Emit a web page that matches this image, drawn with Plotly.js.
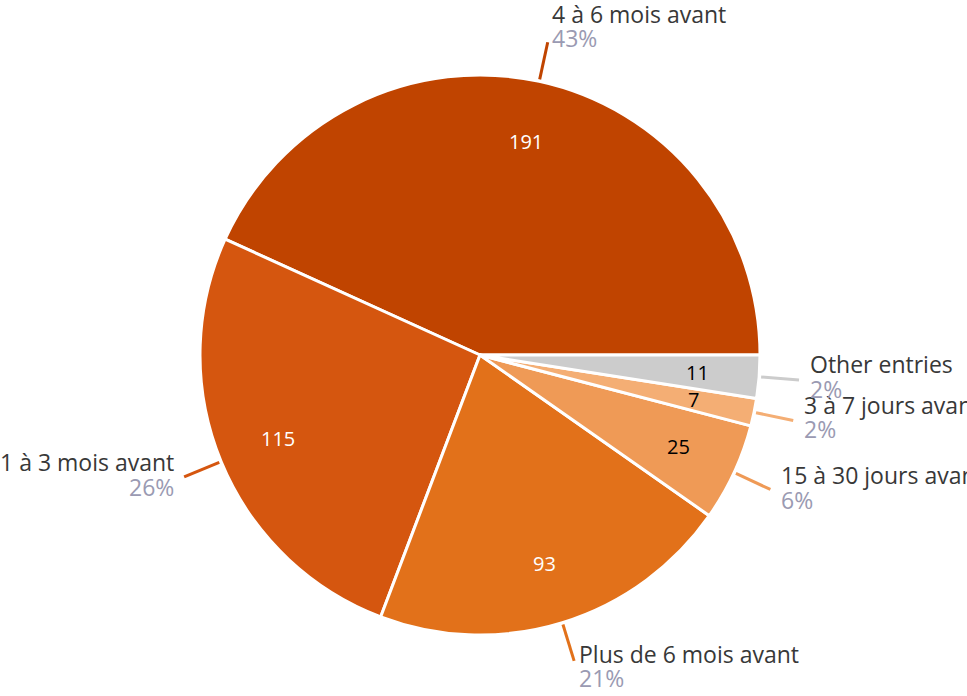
<!DOCTYPE html>
<html>
<head>
<meta charset="utf-8">
<script src="https://cdn.plot.ly/plotly-3.0.1.min.js"></script>
<style>html,body{margin:0;padding:0;background:#fff;}#chart{width:967px;height:696px;}</style>
</head>
<body>
<div id="chart"></div>
<script>
const labels = ['4 à 6 mois avant', '1 à 3 mois avant', 'Plus de 6 mois avant', '15 à 30 jours avant', '3 à 7 jours avant', 'Other entries'];
const values = [191, 115, 93, 25, 7, 11];
const colors = ['#C04400', '#D5560F', '#E2711A', '#EF9A56', '#F4AE74', '#CCCCCC'];
const valueColors = ['#ffffff', '#ffffff', '#ffffff', '#000000', '#000000', '#000000'];

const W = 967, H = 696;
const cx = 480, cy = 355, R = 280;
const FONT = '"Open Sans", sans-serif';

const total = values.reduce((a, b) => a + b, 0);
const px = x => x / W;
const py = y => 1 - y / H;

const annotations = [];
const shapes = [];
let cum = 0;
values.forEach((v, i) => {
  const frac = v / total;
  const mid = (cum + frac / 2) * 2 * Math.PI;
  cum += frac;
  const dx = Math.cos(mid), dy = -Math.sin(mid);
  // inside value
  const ri = R * 0.78;
  annotations.push({
    xref: 'paper', yref: 'paper',
    x: px(cx + ri * dx), y: py(cy + ri * dy),
    text: String(v), showarrow: false,
    xanchor: 'center', yanchor: 'middle',
    font: {family: FONT, size: 20, color: valueColors[i]}
  });
  // leader line
  const r1 = R + 2, r2 = R + 40;
  shapes.push({
    type: 'line', xref: 'paper', yref: 'paper',
    x0: px(cx + r1 * dx), y0: py(cy + r1 * dy),
    x1: px(cx + r2 * dx), y1: py(cy + r2 * dy),
    line: {color: colors[i], width: 3}
  });
  const ex = cx + r2 * dx, ey = cy + r2 * dy;
  const right = dx >= 0;
  const pct = Math.round(frac * 100) + '%';
  const off = -4 + dy * Math.abs(dy) * (dy < 0 ? 13 : 10);
  const tx = px(ex + 9 * dx);
  annotations.push({
    xref: 'paper', yref: 'paper',
    x: tx, y: py(ey + off - 12),
    text: labels[i], showarrow: false,
    xanchor: right ? 'left' : 'right', yanchor: 'middle',
    font: {family: FONT, size: 23, color: '#383838'}
  });
  annotations.push({
    xref: 'paper', yref: 'paper',
    x: tx, y: py(ey + off + 12.5),
    text: pct, showarrow: false,
    xanchor: right ? 'left' : 'right', yanchor: 'middle',
    font: {family: FONT, size: 23, color: '#9A9AB2'}
  });
});

const trace = {
  type: 'pie',
  labels: labels,
  values: values,
  sort: false,
  direction: 'counterclockwise',
  // in counterclockwise mode Plotly's rotation marks the end of the first slice;
  // make the first slice begin at 3 o'clock
  rotation: 90 - 360 * values[0] / total,
  textinfo: 'none',
  hoverinfo: 'label+value+percent',
  marker: {colors: colors, line: {color: '#ffffff', width: 3}},
  domain: {x: [px(cx - R), px(cx + R)], y: [py(cy + R), py(cy - R)]}
};

const layout = {
  width: W, height: H,
  margin: {l: 0, r: 0, t: 0, b: 0},
  showlegend: false,
  paper_bgcolor: '#ffffff',
  annotations: annotations,
  shapes: shapes
};

Plotly.newPlot('chart', [trace], layout, {displayModeBar: false, staticPlot: true});
</script>
</body>
</html>
